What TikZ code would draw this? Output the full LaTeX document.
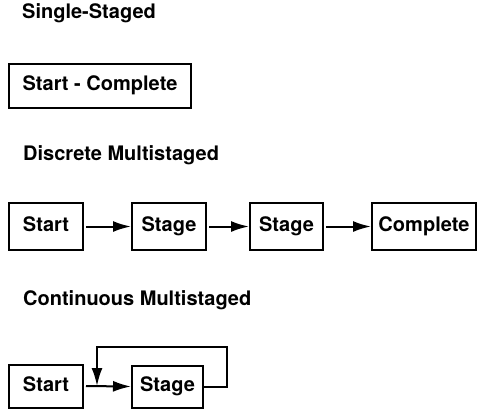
\documentclass[tikz,border=0pt]{standalone}
\usepackage{fontspec}
\setmainfont{TeX Gyre Heros}
\usetikzlibrary{arrows.meta}
\begin{document}
\begin{tikzpicture}[x=1pt,y=-1pt,
  box/.style={draw,line width=2pt,inner sep=0pt,text height=14pt,text depth=4pt,font=\fontsize{20}{22}\selectfont\bfseries},
  heading/.style={anchor=west,inner sep=0pt,text height=14pt,text depth=4pt,font=\fontsize{20}{22}\selectfont\bfseries},
  conn/.style={line width=2pt,-{Latex[length=18pt,width=11pt]}}]
\useasboundingbox (0,0) rectangle (478,413);
\node[heading] (h1) at (22,13) {Single-Staged};
\node[box,minimum width=182pt,minimum height=44pt] (sc) at (100,85.5) {Start - Complete};
\node[heading] (h2) at (23,155) {Discrete Multistaged};
\node[box,minimum width=74pt,minimum height=47pt] (s1) at (46,226.5) {Start};
\node[box,minimum width=74pt,minimum height=47pt] (g1) at (169,226.5) {Stage};
\node[box,minimum width=73pt,minimum height=47pt] (g2) at (286.5,226.5) {Stage};
\node[box,minimum width=104pt,minimum height=47pt] (c1) at (424,226.5) {Complete};
\draw[conn,shorten <=2pt] (s1.east) -- (g1.west);
\draw[conn,shorten <=2pt] (g1.east) -- (g2.west);
\draw[conn,shorten <=2pt] (g2.east) -- (c1.west);
\node[heading] (h3) at (23,300) {Continuous Multistaged};
\node[box,minimum width=74pt,minimum height=43pt] (s3) at (46,386) {Start};
\node[box,minimum width=71pt,minimum height=42pt] (g3) at (167.5,386.5) {Stage};
\coordinate (j) at (97,386);
\coordinate (top) at (97,347);
\draw[conn,shorten <=2pt] (s3.east) -- (g3.west);
\draw[conn] (g3.east) -- ++(23,0) |- (top) -- (j);
\end{tikzpicture}
\end{document}
